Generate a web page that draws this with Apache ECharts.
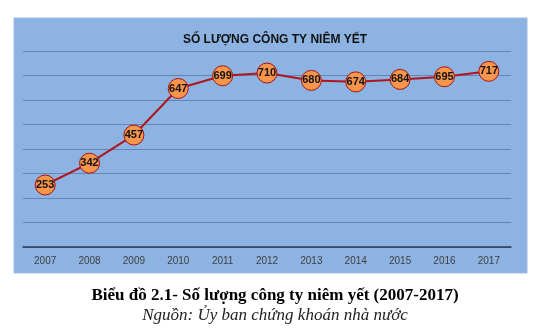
<!DOCTYPE html>
<html>
<head>
<meta charset="utf-8">
<script src="https://cdn.jsdelivr.net/npm/echarts@6/dist/echarts.min.js"></script>
<style>
  html, body { margin: 0; padding: 0; background: #ffffff; }
  #chart { width: 551px; height: 332px; }
</style>
</head>
<body>
<div id="chart"></div>
<script>
// Number of listed companies per year
const years = ['2007', '2008', '2009', '2010', '2011', '2012', '2013', '2014', '2015', '2016', '2017'];
const listedCompanies = [253, 342, 457, 647, 699, 710, 680, 674, 684, 695, 717];

const chart = echarts.init(document.getElementById('chart'), null, { renderer: 'canvas' });

chart.setOption({
  animation: false,
  backgroundColor: '#ffffff',
  graphic: [{
    type: 'rect',
    shape: { x: 14, y: 18, width: 513, height: 255 },
    style: { fill: '#8DB3E2', stroke: '#9DBBE0', lineWidth: 1 },
    z: -10
  }],
  title: [
    {
      text: 'SỐ LƯỢNG CÔNG TY NIÊM YẾT',
      left: 270, top: 29, textAlign: 'center',
      textStyle: { fontFamily: 'Liberation Sans', fontWeight: 'bold', fontSize: 12, color: '#111111' }
    },
    {
      text: 'Biểu đồ 2.1- Số lượng công ty niêm yết (2007-2017)',
      left: 270, top: 282, textAlign: 'center',
      textStyle: { fontFamily: 'Liberation Serif', fontWeight: 'bold', fontSize: 17, color: '#000000' }
    },
    {
      text: 'Nguồn: Ủy ban chứng khoán nhà nước',
      left: 270, top: 302, textAlign: 'center',
      textStyle: { fontFamily: 'Liberation Serif', fontStyle: 'italic', fontWeight: 'normal', fontSize: 17, color: '#222222' }
    }
  ],
  grid: { left: 23, right: 40, top: 51, bottom: 85, containLabel: false },
  xAxis: {
    type: 'category',
    data: years,
    boundaryGap: true,
    axisLine: { lineStyle: { color: '#2b3a55', width: 1.5 } },
    axisTick: { show: false },
    axisLabel: { color: '#404040', fontFamily: 'Liberation Sans', fontSize: 10, margin: 9 }
  },
  yAxis: {
    type: 'value',
    min: 0, max: 800, interval: 100,
    axisLine: { show: false },
    axisTick: { show: false },
    axisLabel: { show: false },
    splitLine: { lineStyle: { color: '#6585b8', width: 1 } }
  },
  series: [{
    type: 'line',
    data: listedCompanies,
    symbol: 'circle',
    symbolSize: 20,
    lineStyle: { color: '#B0151C', width: 2 },
    itemStyle: { color: '#F7964A', borderColor: '#A8121A', borderWidth: 1 },
    label: {
      show: true,
      position: 'inside',
      fontFamily: 'Liberation Sans',
      fontWeight: 'bold',
      fontSize: 11,
      color: '#111111'
    },
    z: 5
  }]
});
</script>
</body>
</html>
